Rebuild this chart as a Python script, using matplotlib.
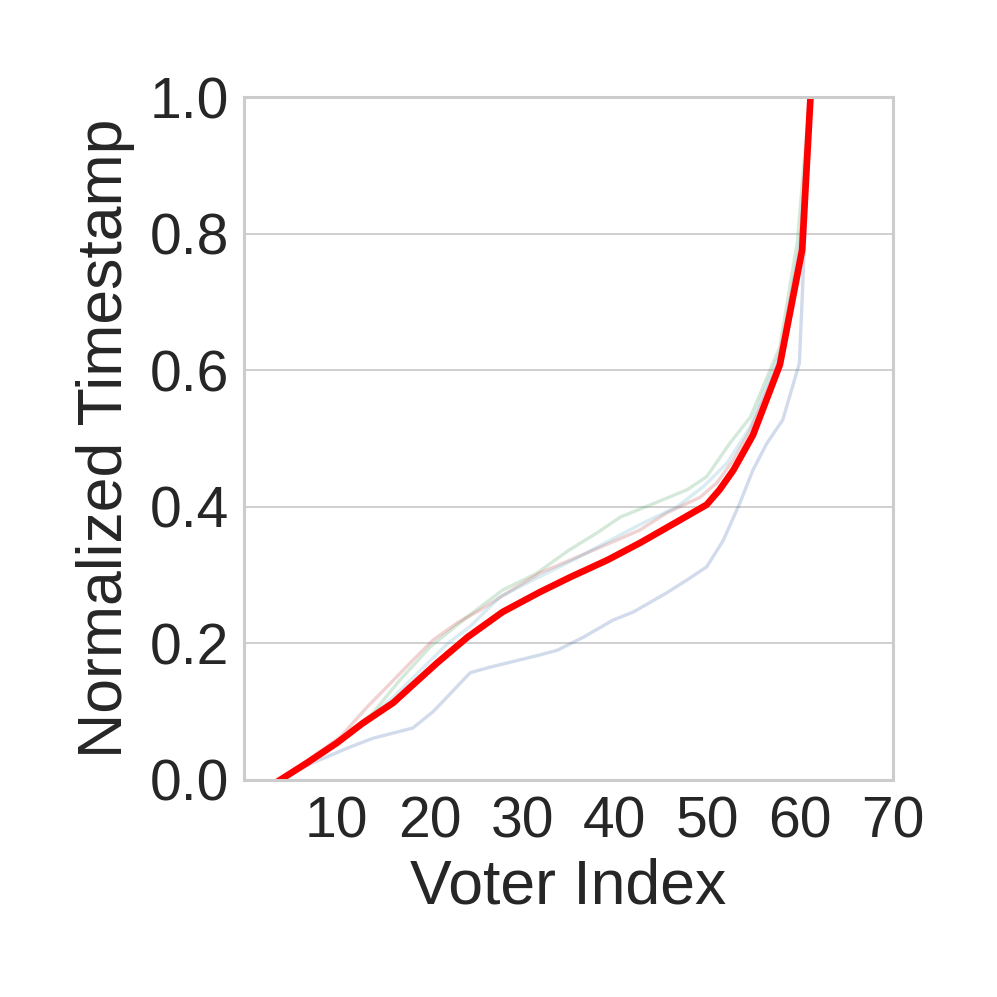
import matplotlib
matplotlib.use("Agg")
import matplotlib.pyplot as plt

# mean curve (red)
mean_x = [3.9, 6.8, 10.0, 12.8, 16.1, 18.2, 20.8, 24.1, 27.9, 31.9, 35.2, 39.2,
          42.7, 46.7, 49.9, 51.3, 52.8, 54.9, 57.8, 60.2, 61.1]
mean_y = [0.0, 0.025, 0.054, 0.083, 0.113, 0.139, 0.171, 0.209, 0.246, 0.275, 0.297, 0.322,
          0.347, 0.378, 0.403, 0.425, 0.454, 0.505, 0.608, 0.776, 1.0]

# individual runs (faint)
blue_x = [3.9, 7.4, 11.4, 13.9, 18.2, 20.4, 24.4, 26.5, 31.9, 33.8, 36.6, 39.8,
          42.0, 45.6, 47.8, 49.9, 51.7, 53.5, 54.9, 56.4, 58.1, 59.9, 60.5, 61.1]
blue_y = [0.0, 0.025, 0.048, 0.061, 0.076, 0.100, 0.157, 0.165, 0.183, 0.190, 0.209, 0.234,
          0.246, 0.274, 0.293, 0.312, 0.351, 0.406, 0.454, 0.493, 0.527, 0.610, 0.800, 1.0]

green_x = [3.9, 7.0, 10.5, 13.9, 16.8, 20.1, 24.1, 27.9, 31.5, 35.0, 38.1, 40.6,
           44.6, 47.8, 49.9, 52.4, 54.6, 57.8, 59.7, 61.0]
green_y = [0.0, 0.027, 0.060, 0.098, 0.146, 0.195, 0.239, 0.278, 0.302, 0.336, 0.362, 0.385,
           0.407, 0.425, 0.444, 0.493, 0.531, 0.634, 0.790, 1.0]

pink_x = [3.9, 7.0, 10.4, 13.3, 15.4, 17.9, 20.4, 23.0, 25.5, 28.4, 31.9, 35.2, 39.5,
          42.7, 45.6, 49.2, 51.0, 52.8, 54.6, 57.6, 60.0, 61.0]
pink_y = [0.0, 0.030, 0.063, 0.107, 0.136, 0.171, 0.205, 0.230, 0.249, 0.274, 0.303, 0.322, 0.347,
          0.366, 0.391, 0.414, 0.435, 0.469, 0.512, 0.610, 0.780, 1.0]

cyan_x = [3.9, 7.0, 10.2, 13.0, 16.0, 19.0, 22.0, 24.4, 27.6, 31.2, 35.5, 39.5,
          43.0, 46.7, 49.5, 52.1, 54.6, 56.0, 58.0, 60.0, 61.0]
cyan_y = [0.0, 0.026, 0.056, 0.085, 0.120, 0.160, 0.200, 0.225, 0.268, 0.293, 0.322, 0.351,
          0.376, 0.400, 0.429, 0.464, 0.517, 0.567, 0.630, 0.790, 1.0]

yticks = [0.0, 0.2, 0.4, 0.6, 0.8, 1.0]
xticks = [10, 20, 30, 40, 50, 60, 70]

plt.rcParams['font.family'] = ['Liberation Sans', 'DejaVu Sans']

fig = plt.figure(figsize=(9.97, 9.97), dpi=100)
ax = fig.add_axes([0.2447, 0.2177, 0.651, 0.685])

# faint runs
runs = [(blue_x, blue_y, '#4C72B0'), (green_x, green_y, '#55A868'),
        (pink_x, pink_y, '#C44E52'), (cyan_x, cyan_y, '#64B5CD')]
for xs, ys, c in runs:
    ax.plot(xs, ys, color=c, alpha=0.25, linewidth=2.4)

ax.plot(mean_x, mean_y, color='red', linewidth=4.8)

ax.set_xlim(0, 70)
ax.set_ylim(0, 1.0)
ax.set_xticks(xticks)
ax.set_yticks(yticks)
ax.set_yticklabels([f"{v:.1f}" for v in yticks])

# whitegrid-like look, horizontal grid only
ax.grid(axis='y', color='#cccccc', linewidth=1.3)
ax.set_axisbelow(True)
for s in ax.spines.values():
    s.set_color('#cccccc')
    s.set_linewidth(2.2)
ax.tick_params(length=0, labelsize=41, colors='#262626', pad=11)

ax.set_xlabel('Voter Index', fontsize=45, color='#262626', labelpad=6)
ax.set_ylabel('Normalized Timestamp', fontsize=45, color='#262626', labelpad=10)

fig.savefig('out.png', dpi=100, facecolor='white')
